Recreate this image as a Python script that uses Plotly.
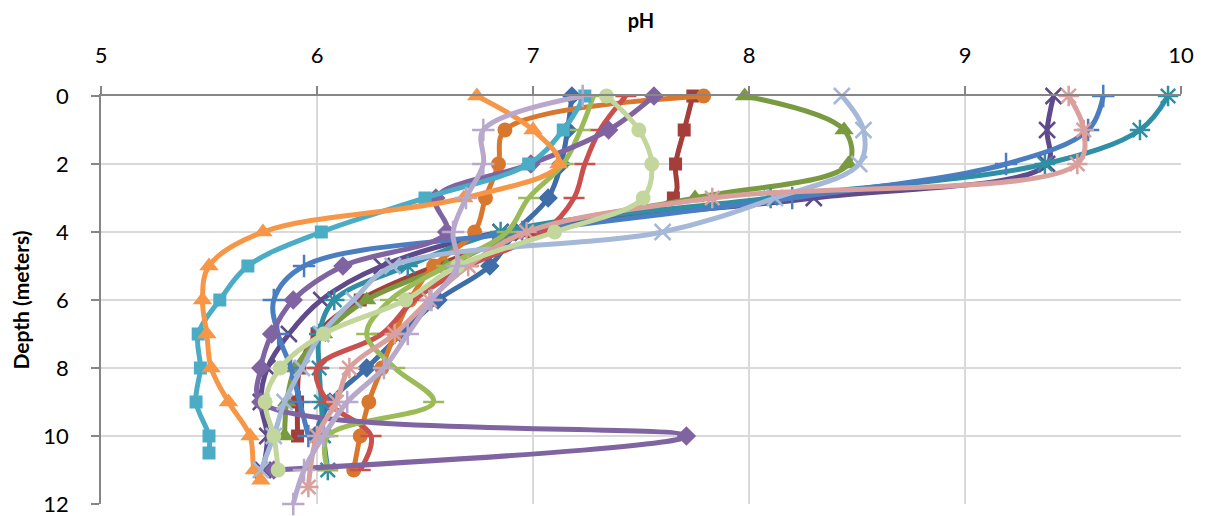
import plotly.graph_objects as go

# depth values (m) and pH readings per profile
depth_a = [0, 1, 2, 3, 4, 5, 6, 7, 8, 9, 10]
ph_a = [7.18, 7.16, 7.13, 7.07, 6.92, 6.80, 6.56, 6.39, 6.23, 6.06, 5.99]

depth_b = [0, 1, 2, 3, 4, 5, 6, 7, 8, 9, 10]
ph_b = [7.74, 7.70, 7.66, 7.65, 7.00, 6.55, 6.20, 6.00, 5.92, 5.91, 5.91]

depth_c = [0, 1, 2, 3, 4, 5, 6, 7, 8, 9, 10]
ph_c = [7.98, 8.44, 8.46, 7.75, 6.95, 6.60, 6.23, 6.03, 5.90, 5.86, 5.85]

depth_d = [0, 1, 2, 3, 4, 5, 6, 7, 8, 9, 10, 11]
ph_d = [9.41, 9.38, 9.38, 8.30, 6.85, 6.30, 6.02, 5.87, 5.77, 5.74, 5.77, 5.75]

depth_e = [0, 1, 2, 3, 4, 5, 6, 7, 8, 9, 10, 11]
ph_e = [9.94, 9.81, 9.37, 8.10, 6.85, 6.42, 6.08, 6.01, 6.01, 6.02, 6.03, 6.05]

depth_f = [0, 1, 2, 3, 4, 5, 6, 7, 8, 9, 10, 11]
ph_f = [7.79, 6.87, 6.84, 6.78, 6.73, 6.54, 6.43, 6.36, 6.30, 6.24, 6.20, 6.17]

depth_g = [0, 1, 2, 3, 4, 5, 6, 7, 8, 9, 10]
ph_g = [9.64, 9.57, 9.19, 8.20, 6.95, 5.94, 5.80, 5.82, 5.88, 5.92, 5.96]

depth_h = [0, 1, 2, 3, 4, 5, 6, 7, 8, 9, 10, 11]
ph_h = [7.43, 7.31, 7.24, 7.19, 7.05, 6.70, 6.45, 6.30, 6.00, 6.05, 6.25, 6.20]

depth_i = [0, 1, 2, 3, 4, 5, 6, 7, 8, 9, 10, 11]
ph_i = [7.28, 7.22, 7.14, 6.98, 6.88, 6.60, 6.34, 6.23, 6.36, 6.54, 6.05, 6.05]

depth_j = [0, 1, 2, 3, 4, 5, 6, 7, 8, 9, 10, 11]
ph_j = [7.56, 7.35, 6.99, 6.55, 6.60, 6.12, 5.89, 5.79, 5.74, 5.74, 7.71, 5.80]

depth_k = [0, 1, 2, 3, 4, 5, 6, 7, 8, 9, 10, 10.5]
ph_k = [7.24, 7.14, 6.98, 6.50, 6.02, 5.68, 5.55, 5.45, 5.46, 5.44, 5.50, 5.50]

depth_l = [0, 1, 2, 3, 4, 5, 6, 7, 8, 9, 10, 11, 11.3]
ph_l = [6.74, 7.00, 7.12, 6.68, 5.75, 5.50, 5.47, 5.49, 5.51, 5.59, 5.69, 5.71, 5.74]

depth_m = [0, 1, 2, 3, 4, 5, 6, 7, 8, 9, 10, 11]
ph_m = [8.43, 8.53, 8.51, 8.12, 7.60, 6.35, 6.17, 6.02, 5.93, 5.85, 5.80, 5.74]

depth_n = [0, 1, 2, 3, 4, 5, 6, 7, 8, 9, 10, 11.5]
ph_n = [9.48, 9.55, 9.52, 7.83, 6.97, 6.70, 6.52, 6.36, 6.15, 6.09, 6.00, 5.96]

depth_o = [0, 1, 2, 3, 4, 5, 6, 7, 8, 9, 10, 11]
ph_o = [7.34, 7.49, 7.55, 7.51, 7.10, 6.65, 6.41, 6.03, 5.83, 5.76, 5.80, 5.82]

depth_p = [0, 1, 2, 3, 4, 5, 6, 7, 8, 9, 10, 11, 12]
ph_p = [7.23, 6.77, 6.77, 6.69, 6.63, 6.65, 6.53, 6.42, 6.31, 6.14, 6.03, 5.94, 5.89]

x_ticks = [5, 6, 7, 8, 9, 10]
y_ticks = [0, 2, 4, 6, 8, 10, 12]

series = [
    (ph_a, depth_a, "#3F6DA8", "diamond", 15, False),
    (ph_b, depth_b, "#A33E3B", "square", 13, False),
    (ph_c, depth_c, "#7A9A40", "triangle-up", 17, False),
    (ph_d, depth_d, "#5F4A8B", "x-thin", 16, True),
    (ph_e, depth_e, "#2E8FA5", "asterisk", 17, True),
    (ph_f, depth_f, "#D8782F", "circle", 15, False),
    (ph_g, depth_g, "#4A7EC0", "cross-thin", 16, True),
    (ph_h, depth_h, "#C9504D", "line-ew", 15, True),
    (ph_i, depth_i, "#9BBB59", "line-ew", 15, True),
    (ph_j, depth_j, "#8064A2", "diamond", 15, False),
    (ph_k, depth_k, "#4BACC6", "square", 13, False),
    (ph_l, depth_l, "#F79646", "triangle-up", 17, False),
    (ph_m, depth_m, "#A5B8D8", "x-thin", 16, True),
    (ph_n, depth_n, "#D9A09E", "asterisk", 17, True),
    (ph_o, depth_o, "#C3D69B", "circle", 15, False),
    (ph_p, depth_p, "#B7A8CC", "cross-thin", 16, True),
]

fig = go.Figure()
for xs, ys, col, sym, size, thin in series:
    marker = dict(symbol=sym, size=size, color=col)
    if thin:
        marker["line"] = dict(color=col, width=2.5)
    else:
        marker["line"] = dict(width=0)
    fig.add_trace(go.Scatter(
        x=xs, y=ys, mode="lines+markers",
        line=dict(color=col, width=5, shape="spline", smoothing=1.0),
        marker=marker, showlegend=False, cliponaxis=False,
    ))

fig.update_layout(
    width=1199, height=510,
    margin=dict(l=93, r=26, t=88, b=14),
    paper_bgcolor="white", plot_bgcolor="white",
    font=dict(family="Lato, Liberation Sans, sans-serif", color="#000000", size=22),
    showlegend=False,
)
fig.update_xaxes(
    side="top", range=[5, 10], tickvals=x_ticks, ticktext=[str(v) for v in x_ticks],
    showgrid=True, gridcolor="#D9D9D9", gridwidth=1.5,
    showline=True, linecolor="#868686", linewidth=1.5,
    ticks="outside", ticklen=8, tickcolor="#868686", tickwidth=1.5,
    ticklabelstandoff=14, ticklabeloverflow="allow",
    title=dict(text="<b>pH</b>", font=dict(size=20), standoff=10),
    zeroline=False, automargin=False,
)
fig.update_yaxes(
    range=[12, 0], tickvals=y_ticks, ticktext=[str(v) for v in y_ticks],
    showgrid=True, gridcolor="#D9D9D9", gridwidth=1.5,
    showline=True, linecolor="#868686", linewidth=1.5,
    ticks="outside", ticklen=8, tickcolor="#868686", tickwidth=1.5,
    ticklabelstandoff=18, ticklabeloverflow="allow",
    title=dict(text="<b>Depth (meters)</b>", font=dict(size=21), standoff=10),
    zeroline=False, automargin=False,
)

fig.write_html("out.html")
